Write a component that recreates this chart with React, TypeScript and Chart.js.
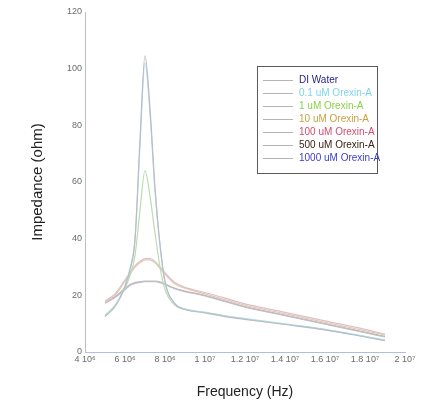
import { useEffect, useRef } from "react";
import { Chart, registerables } from "chart.js";

Chart.register(...registerables);

const frequencies = [5e6, 5.5e6, 6e6, 6.25e6, 6.5e6, 6.75e6, 7e6, 7.25e6, 7.5e6, 7.75e6, 8e6, 8.5e6, 9e6, 1e7, 1.1e7, 1.2e7, 1.4e7, 1.6e7, 1.8e7, 1.9e7];

const diWater = [12.5, 16, 23, 29, 39.5, 75, 104.5, 86, 58, 38, 25, 17, 15, 13.8, 12.5, 11.5, 9.7, 7.8, 5.3, 4];
const orexin01 = [12.8, 16.2, 23.5, 29.5, 40, 73, 102, 84, 57, 37.5, 24.5, 17, 15.2, 14, 12.8, 11.8, 9.9, 8, 5.5, 4.2];
const orexin1 = [13, 16.5, 22.5, 27, 34, 50, 64, 55, 42, 30, 22, 16.5, 15, 14, 12.8, 11.7, 9.8, 7.9, 5.4, 4.1];
const orexin10 = [17.5, 20, 25, 27.5, 30, 31.5, 32.5, 32.5, 31.5, 29.5, 27.5, 24, 22.5, 20.5, 18.5, 16.5, 13.5, 10.5, 7.5, 6];
const orexin100 = [18, 20.5, 25.5, 28, 30.5, 32, 33, 33, 32, 30, 28, 24.5, 22.8, 21, 19, 17, 14, 11, 8, 6.3];
const orexin500 = [17.5, 19.5, 22.5, 23.8, 24.5, 24.8, 25, 25, 25, 24.8, 24, 22.5, 21.5, 20, 18, 16, 13, 10, 7, 5.5];
const orexin1000 = [17.2, 19.2, 22, 23.5, 24.2, 24.6, 24.8, 24.8, 24.8, 24.5, 23.8, 22.3, 21.3, 19.8, 17.8, 15.8, 12.8, 9.8, 6.8, 5.3];

const seriesLabels = ["DI Water", "0.1 uM Orexin-A", "1 uM Orexin-A", "10 uM Orexin-A", "100 uM Orexin-A", "500 uM Orexin-A", "1000 uM Orexin-A"];
const seriesValues = [diWater, orexin01, orexin1, orexin10, orexin100, orexin500, orexin1000];
const lineColors = ["#bcbcc8", "#b0dde6", "#bcdcb0", "#d8cab8", "#e6bcc4", "#c4bcb4", "#bcbcdc"];
const legendTextColors = ["#1c1c8c", "#7fd4e8", "#8cd048", "#c8a040", "#d44c6c", "#3a2414", "#3c3cc8"];

const xTickValues = [4e6, 6e6, 8e6, 1e7, 1.2e7, 1.4e7, 1.6e7, 1.8e7, 2e7];
const xTickLabels = ["4 10\u2076", "6 10\u2076", "8 10\u2076", "1 10\u2077", "1.2 10\u2077", "1.4 10\u2077", "1.6 10\u2077", "1.8 10\u2077", "2 10\u2077"];
const yTickValues = [0, 20, 40, 60, 80, 100, 120];

const FONT = "'Liberation Sans', Arial, sans-serif";

const legendBoxPlugin = {
  id: "legendBox",
  afterDraw(chart: any) {
    const ctx = chart.ctx;
    const left = 257;
    const top = 66;
    const width = 120;
    const height = 107;
    ctx.save();
    ctx.fillStyle = "#ffffff";
    ctx.fillRect(left, top, width, height);
    ctx.strokeStyle = "#5a5a5a";
    ctx.lineWidth = 1;
    ctx.strokeRect(left + 0.5, top + 0.5, width, height);
    ctx.font = `10px ${FONT}`;
    ctx.textBaseline = "middle";
    ctx.textAlign = "left";
    chart.data.datasets.forEach((ds: any, i: number) => {
      const y = top + 14 + i * 13;
      ctx.strokeStyle = "#b4b4b4";
      ctx.beginPath();
      ctx.moveTo(263, y + 0.5);
      ctx.lineTo(293, y + 0.5);
      ctx.stroke();
      ctx.fillStyle = legendTextColors[i];
      ctx.fillText(ds.label, 299, y);
    });
    ctx.restore();
  },
};

export default function App() {
  const canvasRef = useRef<HTMLCanvasElement | null>(null);

  useEffect(() => {
    if (!canvasRef.current) return;
    const chart = new Chart(canvasRef.current, {
      type: "line",
      data: {
        datasets: seriesLabels.map((label, i) => ({
          label,
          data: frequencies.map((f, j) => ({ x: f, y: seriesValues[i][j] })),
          borderColor: lineColors[i],
          backgroundColor: lineColors[i],
          borderWidth: 1.2,
          pointRadius: 0,
          tension: 0.4,
          cubicInterpolationMode: "monotone" as const,
          fill: false,
        })),
      },
      options: {
        animation: false,
        responsive: false,
        maintainAspectRatio: false,
        layout: { padding: { left: 0, right: 23, top: 12, bottom: 0 } },
        plugins: { legend: { display: false }, tooltip: { enabled: false } },
        scales: {
          x: {
            type: "linear",
            min: 4e6,
            max: 2e7,
            afterFit: (scale: any) => {
              scale.height = 60;
            },
            afterBuildTicks: (scale: any) => {
              scale.ticks = xTickValues.map((v) => ({ value: v }));
            },
            ticks: {
              padding: 2,
              color: "#6a6a6a",
              font: { family: FONT, size: 9 },
              maxRotation: 0,
              autoSkip: false,
              callback: (value: any) => {
                const idx = xTickValues.indexOf(Number(value));
                return idx >= 0 ? xTickLabels[idx] : "";
              },
            },
            grid: { display: false, drawTicks: false, tickLength: 0 },
            border: { display: true, color: "#b4bce0", width: 1 },
            title: {
              display: true,
              text: "Frequency (Hz)",
              color: "#222222",
              font: { family: FONT, size: 14 },
              padding: { top: 0, bottom: 11.6 },
            },
          },
          y: {
            type: "linear",
            min: 0,
            max: 120,
            afterFit: (scale: any) => {
              scale.width = 85;
            },
            afterBuildTicks: (scale: any) => {
              scale.ticks = yTickValues.map((v) => ({ value: v }));
            },
            ticks: {
              padding: 3,
              color: "#6a6a6a",
              font: { family: FONT, size: 9 },
            },
            grid: { display: false, drawTicks: false, tickLength: 0 },
            border: { display: true, color: "#b4bce0", width: 1 },
            title: {
              display: true,
              text: "Impedance (ohm)",
              color: "#222222",
              font: { family: FONT, size: 15 },
              padding: { top: 29, bottom: 0 },
            },
          },
        },
      },
      plugins: [legendBoxPlugin],
    });
    return () => chart.destroy();
  }, []);

  return (
    <div style={{ position: "fixed", left: 0, top: 0, width: 428, height: 412, background: "#ffffff" }}>
      <canvas ref={canvasRef} width={428} height={412} style={{ display: "block", width: 428, height: 412 }} />
    </div>
  );
}
